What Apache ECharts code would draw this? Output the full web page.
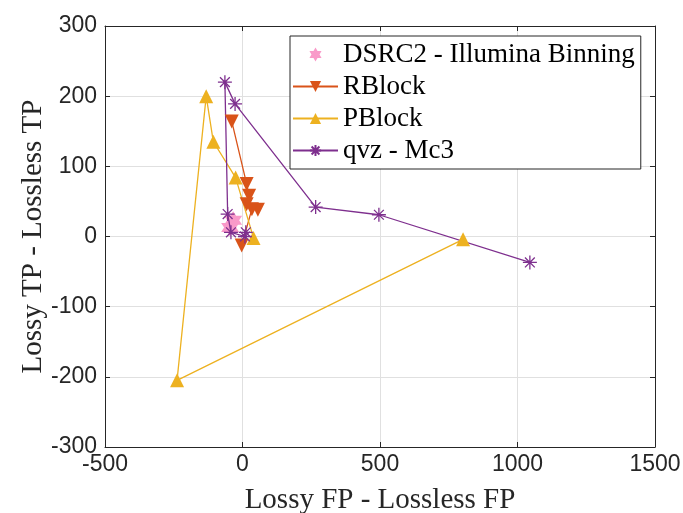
<!DOCTYPE html>
<html>
<head>
<meta charset="utf-8">
<title>Lossy vs Lossless</title>
<script src="https://cdn.jsdelivr.net/npm/echarts@6/dist/echarts.min.js"></script>
<style>
    html, body { margin: 0; padding: 0; background: #fff; }
    #chart { width: 683px; height: 513px; }
</style>
</head>
<body>
<div id="chart"></div>
<script>
// values: [FP diff, TP diff]
var seriesNames = ['DSRC2 - Illumina Binning', 'RBlock', 'PBlock', 'qvz - Mc3'];
var dsrcPts = [[-34, 23], [-45, 13]];
var rblockPts = [[-39, 164], [15, 75], [24, 58], [15, 46], [56, 38], [34, 39], [-3, -13]];
var pblockPts = [[802, -4], [-238, -205], [-132, 200], [-106, 135], [-25, 84], [40, -2]];
var qvzPts = [[1045, -37], [496, 31], [266, 42], [-27, 189], [-64, 220], [-54, 32], [-42, 6], [9, 0], [12, 6]];

var xTicks = [-500, 0, 500, 1000, 1500];
var yTicks = [-300, -200, -100, 0, 100, 200, 300];

var hexagram = 'path://M0,-100L28.87,-50L86.6,-50L57.74,0L86.6,50L28.87,50L0,100L-28.87,50L-86.6,50L-57.74,0L-86.6,-50L-28.87,-50Z';
var asterisk = 'path://M50,0L50,100M0,50L100,50M15,15L85,85M15,85L85,15';

var axisColor = '#262626';
var gridColor = '#e0e0e0';
var serif = 'Liberation Serif';

var myChart = echarts.init(document.getElementById('chart'), null, { renderer: 'canvas' });

function sideAxis(pos, ticks) {
    return {
        type: 'value',
        position: pos,
        min: ticks[0],
        max: ticks[ticks.length - 1],
        interval: ticks[1] - ticks[0],
        axisLine: { show: true, onZero: false, lineStyle: { color: axisColor, width: 1 } },
        axisTick: { show: true, inside: true, length: 5, lineStyle: { color: axisColor } },
        axisLabel: { show: false },
        splitLine: { show: false }
    };
}

var option = {
    animation: false,
    backgroundColor: '#fff',
    grid: {
        left: 105,
        right: 28,
        top: 26,
        bottom: 66,
        outerBoundsMode: 'none',
        show: false
    },
    legend: {
        orient: 'vertical',
        left: 290,
        top: 36,
        padding: [5, 6, 5, 2],
        itemWidth: 45,
        itemHeight: 14,
        itemGap: 5,
        backgroundColor: '#fff',
        borderColor: axisColor,
        borderWidth: 1,
        textStyle: { fontFamily: serif, fontSize: 27, color: '#000', lineHeight: 26 },
        data: seriesNames
    },
    xAxis: [{
        type: 'value',
        min: xTicks[0],
        max: xTicks[xTicks.length - 1],
        interval: xTicks[1] - xTicks[0],
        name: 'Lossy FP - Lossless FP',
        nameLocation: 'middle',
        nameGap: 39,
        nameTextStyle: { fontFamily: serif, fontSize: 29, color: axisColor },
        axisLine: { show: true, onZero: false, lineStyle: { color: axisColor, width: 1 } },
        axisTick: { show: true, inside: true, length: 5, lineStyle: { color: axisColor } },
        axisLabel: {
            fontFamily: 'Liberation Sans', fontSize: 23, color: axisColor, margin: 6,
            formatter: function (v) { return String(v); }
        },
        splitLine: { show: true, lineStyle: { color: gridColor, width: 1 } }
    }, sideAxis('top', xTicks)],
    yAxis: [{
        type: 'value',
        min: yTicks[0],
        max: yTicks[yTicks.length - 1],
        interval: yTicks[1] - yTicks[0],
        name: 'Lossy TP - Lossless TP',
        nameLocation: 'middle',
        nameGap: 57,
        nameMoveOverlap: false,
        nameTextStyle: { fontFamily: serif, fontSize: 29, color: axisColor },
        axisLine: { show: true, onZero: false, lineStyle: { color: axisColor, width: 1 } },
        axisTick: { show: true, inside: true, length: 5, lineStyle: { color: axisColor } },
        axisLabel: {
            fontFamily: 'Liberation Sans', fontSize: 23, color: axisColor, margin: 8,
            formatter: function (v) { return String(v); }
        },
        splitLine: { show: true, lineStyle: { color: gridColor, width: 1 } }
    }, sideAxis('right', yTicks)],
    series: [
        {
            name: seriesNames[0],
            type: 'scatter',
            data: dsrcPts,
            symbol: hexagram,
            symbolSize: 18,
            itemStyle: { color: '#f99ac9', opacity: 1 }
        },
        {
            name: seriesNames[1],
            type: 'line',
            data: rblockPts,
            symbol: 'triangle',
            symbolRotate: 180,
            symbolSize: 14,
            showAllSymbol: true,
            lineStyle: { color: '#d95319', width: 1.3 },
            itemStyle: { color: '#d95319', borderWidth: 0 }
        },
        {
            name: seriesNames[2],
            type: 'line',
            data: pblockPts,
            symbol: 'triangle',
            symbolSize: 14,
            showAllSymbol: true,
            lineStyle: { color: '#edb120', width: 1.3 },
            itemStyle: { color: '#edb120', borderWidth: 0 }
        },
        {
            name: seriesNames[3],
            type: 'line',
            data: qvzPts,
            symbol: asterisk,
            symbolSize: 14,
            showAllSymbol: true,
            lineStyle: { color: '#7e2f8e', width: 1.3 },
            itemStyle: { color: '#7e2f8e', borderColor: '#7e2f8e', borderWidth: 1.3 }
        }
    ]
};

myChart.setOption(option);
</script>
</body>
</html>
